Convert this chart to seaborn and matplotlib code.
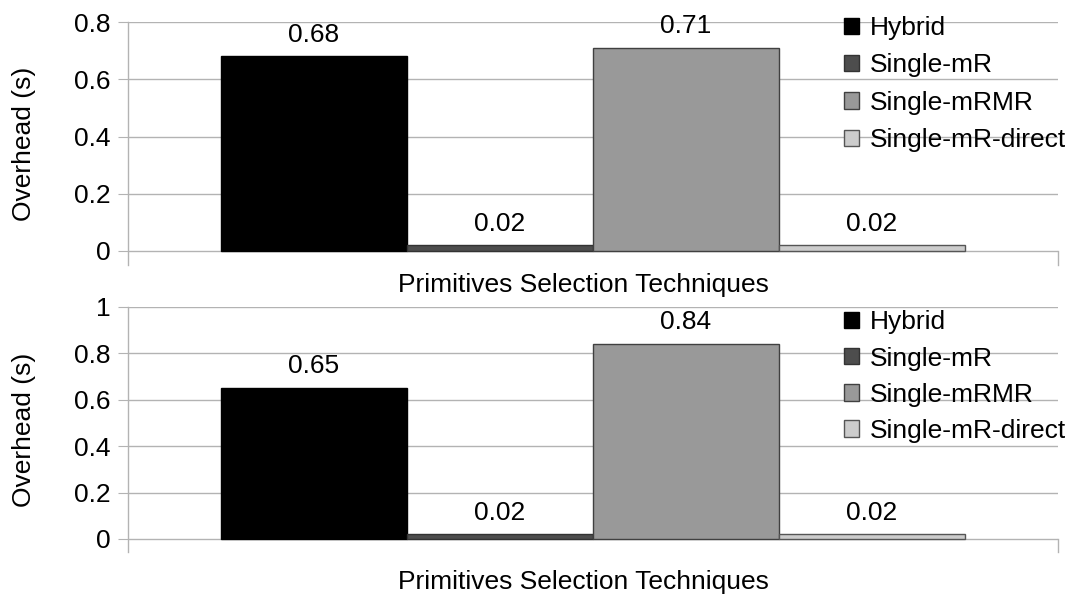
import numpy as np
import pandas as pd
import matplotlib
matplotlib.use('Agg')
import matplotlib.pyplot as plt
import seaborn as sns

# Data
techniques = ['Hybrid', 'Single-mR', 'Single-mRMR', 'Single-mR-direct']
overhead_top = [0.68, 0.02, 0.71, 0.02]
overhead_bottom = [0.65, 0.02, 0.84, 0.02]
yticks_top = [0, 0.2, 0.4, 0.6, 0.8]
yticks_bottom = [0, 0.2, 0.4, 0.6, 0.8, 1]
colors = ['#000000', '#4d4d4d', '#999999', '#cccccc']
edges = ['#000000', '#333333', '#404040', '#555555']

sns.set_style('white')
plt.rcParams['font.family'] = ['Liberation Sans', 'DejaVu Sans']
plt.rcParams['text.color'] = 'black'
plt.rcParams['axes.labelcolor'] = 'black'
plt.rcParams['xtick.color'] = 'black'
plt.rcParams['ytick.color'] = 'black'

FS = 19
GRID = '#b3b3b3'

fig = plt.figure(figsize=(10.78, 5.97), dpi=100)
ax_top = fig.add_axes([0.1187, 0.5561, 0.8627, 0.4070])
ax_bot = fig.add_axes([0.1187, 0.0754, 0.8627, 0.4104])


def draw_panel(ax, values, yticks, ymin, legend_top, xlabel_pad, spacing):
    '''
    Draw one panel of grouped bars with value labels and a legend.
    '''
    df = pd.DataFrame({'group': [''] * len(techniques),
                       'technique': techniques,
                       'overhead': values})

    sns.barplot(data=df, x='group', y='overhead', hue='technique',
                hue_order=techniques, palette=colors, width=0.8,
                saturation=1, ax=ax, legend=True)

    # Edge colours per series and value labels
    for cont, ec in zip(ax.containers, edges):
        for patch in cont:
            patch.set_edgecolor(ec)
            patch.set_linewidth(1.0)
        ax.bar_label(cont, fmt='%.2f', padding=7, fontsize=FS, color='black')

    # Axis formatting
    ax.set_xlim(-0.5, 0.5)
    ax.set_ylim(ymin, yticks[-1])
    ax.set_yticks(yticks)
    ax.set_yticklabels([('%g' % t) for t in yticks], fontsize=FS)
    ax.set_xticks([])
    ax.set_ylabel('Overhead (s)', fontsize=FS, labelpad=27)
    ax.set_xlabel('Primitives Selection Techniques', fontsize=FS, labelpad=xlabel_pad)
    ax.xaxis.label.set_x(0.49)

    ax.yaxis.grid(True, color=GRID, linewidth=1.0)
    ax.set_axisbelow(True)
    ax.tick_params(axis='y', length=7.2, width=0.8, color=GRID,
                   labelcolor='black', pad=5.5, left=True)

    for side in ['top', 'bottom']:
        ax.spines[side].set_visible(False)
    ax.spines['left'].set_color(GRID)
    ax.spines['left'].set_linewidth(1.0)
    ax.spines['right'].set_color(GRID)
    ax.spines['right'].set_linewidth(1.0)
    ax.spines['right'].set_bounds(ymin, 0)

    # Legend
    handles, labels = ax.get_legend_handles_labels()
    ax.get_legend().remove()
    leg = fig.legend(handles, labels, loc='upper left',
                     bbox_to_anchor=(0.7828, legend_top), frameon=False,
                     fontsize=FS, handlelength=0.57, handleheight=0.57,
                     handletextpad=0.42, labelspacing=spacing, borderpad=0,
                     borderaxespad=0)
    for h, ec in zip(leg.legend_handles, edges):
        h.set_edgecolor(ec)
        h.set_linewidth(1.0)


draw_panel(ax_top, overhead_top, yticks_top, -0.049, 0.9732, 6, 0.51)
draw_panel(ax_bot, overhead_bottom, yticks_bottom, -0.056, 0.4800, 13, 0.46)

fig.savefig('out.png', dpi=100)
